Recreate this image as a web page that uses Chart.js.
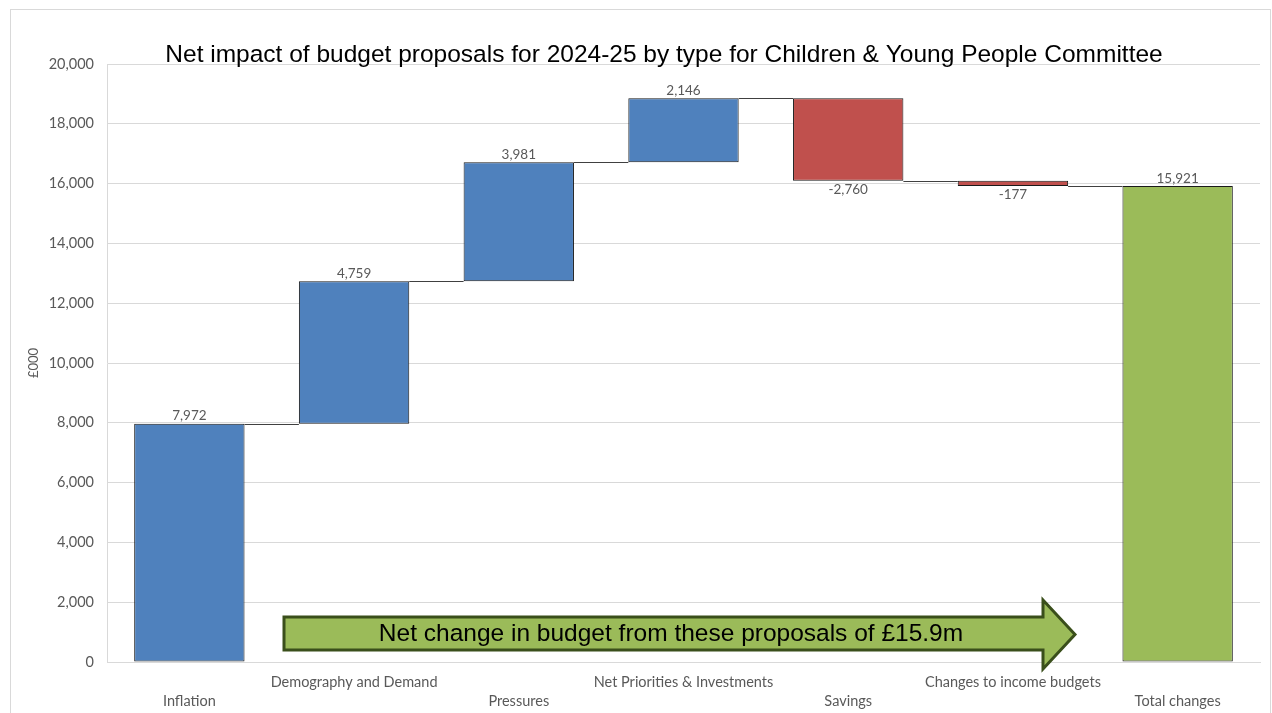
<!DOCTYPE html>
<html lang="en">
<head>
  <meta charset="UTF-8" />
  <title>Net impact of budget proposals 2024-25</title>
  <style>
    body { margin: 0; background: #fff; }
    #wrap { width: 1272px; height: 713px; position: relative; }
  </style>
</head>
<body>
  <div id="wrap"><canvas id="chart" width="1272" height="713"></canvas></div>
  <script src="https://cdn.jsdelivr.net/npm/chart.js"></script>
  <script>
    // Data (£000)
    const categories = ['Inflation', 'Demography and Demand', 'Pressures', 'Net Priorities & Investments', 'Savings', 'Changes to income budgets', 'Total changes'];
    const changes = [7972, 4759, 3981, 2146, -2760, -177];
    const totalChange = 15921;
    const yTicks = [0, 2000, 4000, 6000, 8000, 10000, 12000, 14000, 16000, 18000, 20000];

    const titleText = 'Net impact of budget proposals for 2024-25 by type for Children & Young People Committee';
    const arrowText = 'Net change in budget from these proposals of £15.9m';

    // build floating bars [start, end]
    const bars = [];
    let running = 0;
    changes.forEach(v => {
      bars.push([running, running + v]);
      running += v;
    });
    bars.push([0, totalChange]);
    const amounts = changes.concat([totalChange]);

    const blue = '#4F81BD', red = '#C0504D', green = '#9BBB59';
    const colours = amounts.map((v, i) => i === amounts.length - 1 ? green : (v < 0 ? red : blue));

    // staggered axis labels like Excel does
    const axisLabels = categories.map((c, i) => i % 2 === 0 ? ['', c] : [c]);

    const fmt = v => v.toLocaleString('en-GB');
    const labelFont = 'Lato, "Open Sans", sans-serif';

    const extras = {
      id: 'extras',
      afterDatasetsDraw(chart) {
        const ctx = chart.ctx;
        const y = chart.scales.y;
        const meta = chart.getDatasetMeta(0);
        ctx.save();

        // connector lines
        ctx.strokeStyle = '#404040';
        ctx.lineWidth = 1;
        for (let i = 0; i < meta.data.length - 1; i++) {
          const a = meta.data[i], b = meta.data[i + 1];
          const level = Math.round(y.getPixelForValue(bars[i][1])) + 0.5;
          ctx.beginPath();
          ctx.moveTo(a.x + a.width / 2, level);
          ctx.lineTo(b.x - b.width / 2, level);
          ctx.stroke();
        }

        // value labels
        ctx.font = '13.5px ' + labelFont;
        ctx.fillStyle = '#595959';
        ctx.textAlign = 'center';
        meta.data.forEach((el, i) => {
          const v = amounts[i];
          if (v >= 0) {
            ctx.textBaseline = 'bottom';
            ctx.fillText(fmt(v), el.x, y.getPixelForValue(bars[i][1]) - 1);
          } else {
            ctx.textBaseline = 'top';
            ctx.fillText(fmt(v), el.x, y.getPixelForValue(bars[i][1]) + 2);
          }
        });

        // arrow annotation
        const x0 = 284, x1 = 1043, tip = 1075;
        const bt = 617, bb = 650, ht = 600, hb = 669, mid = (ht + hb) / 2;
        ctx.beginPath();
        ctx.moveTo(x0, bt);
        ctx.lineTo(x1, bt);
        ctx.lineTo(x1, ht);
        ctx.lineTo(tip, mid);
        ctx.lineTo(x1, hb);
        ctx.lineTo(x1, bb);
        ctx.lineTo(x0, bb);
        ctx.closePath();
        ctx.fillStyle = green;
        ctx.fill();
        ctx.lineWidth = 3;
        ctx.strokeStyle = '#3A4F1B';
        ctx.lineJoin = 'miter';
        ctx.stroke();
        ctx.fillStyle = '#000';
        ctx.font = '24.5px "Liberation Sans", Arial, sans-serif';
        ctx.textBaseline = 'middle';
        ctx.fillText(arrowText, 671, (bt + bb) / 2 + 1);

        // title
        ctx.font = '24.5px "Liberation Sans", Arial, sans-serif';
        ctx.textBaseline = 'alphabetic';
        ctx.fillText(titleText, 664, 62);

        // outer frame
        ctx.strokeStyle = '#d9d9d9';
        ctx.lineWidth = 1;
        ctx.strokeRect(10.5, 9.5, 1260, 710);
        ctx.restore();
      }
    };

    new Chart(document.getElementById('chart'), {
      type: 'bar',
      data: {
        labels: axisLabels,
        datasets: [{
          data: bars,
          backgroundColor: colours,
          borderColor: '#1a1a1a',
          borderWidth: 1,
          borderSkipped: false,
          categoryPercentage: 1,
          barPercentage: 0.67
        }]
      },
      options: {
        responsive: false,
        animation: false,
        layout: { padding: { left: 10, top: 64, right: 12, bottom: 0 } },
        plugins: {
          legend: { display: false },
          tooltip: { enabled: false }
        },
        scales: {
          x: {
            grid: { display: false, drawTicks: false },
            border: { display: true, color: '#d9d9d9' },
            ticks: {
              autoSkip: false,
              maxRotation: 0,
              padding: 11,
              color: '#595959',
              font: { family: labelFont, size: 14.5, lineHeight: 1.31 }
            },
            afterFit(scale) { scale.height = 51; }
          },
          y: {
            min: 0,
            max: 20000,
            afterBuildTicks(scale) { scale.ticks = yTicks.map(v => ({ value: v })); },
            grid: { color: '#d9d9d9', drawTicks: false },
            border: { display: true, color: '#d9d9d9' },
            ticks: {
              padding: 13,
              color: '#595959',
              font: { family: labelFont, size: 14.5 },
              callback: v => fmt(v)
            },
            title: {
              display: true,
              text: '£000',
              color: '#595959',
              padding: { top: 16, bottom: 0 },
              font: { family: labelFont, size: 13 }
            },
            afterFit(scale) { scale.width = 97; }
          }
        }
      },
      plugins: [extras]
    });
  </script>
</body>
</html>
